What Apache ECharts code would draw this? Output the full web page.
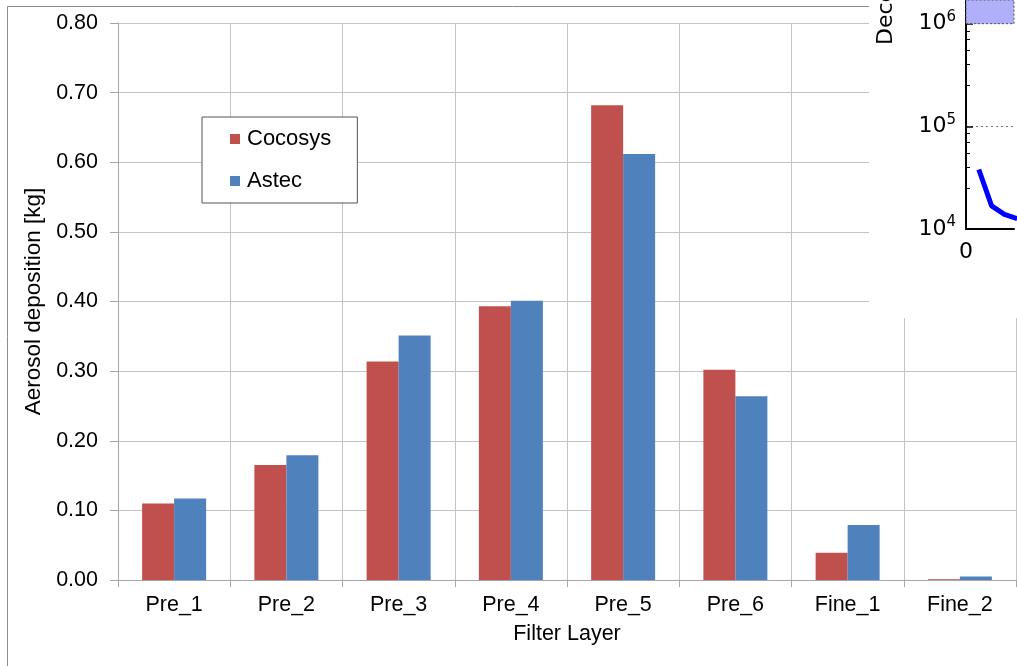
<!DOCTYPE html>
<html>
<head>
<meta charset="utf-8">
<script src="https://cdn.jsdelivr.net/npm/echarts@6/dist/echarts.min.js"></script>
<style>
  html, body { margin: 0; padding: 0; background: #ffffff; }
  #chart { width: 1017px; height: 666px; }
</style>
</head>
<body>
<div id="chart"></div>
<script>
// Aerosol mass deposited on each filter layer, two codes compared
const layers  = ['Pre_1', 'Pre_2', 'Pre_3', 'Pre_4', 'Pre_5', 'Pre_6', 'Fine_1', 'Fine_2'];
const cocosys = [0.110, 0.165, 0.314, 0.393, 0.682, 0.302, 0.039, 0.001];
const astec   = [0.117, 0.179, 0.351, 0.401, 0.612, 0.264, 0.079, 0.005];

// Small decontamination-factor panel in the upper right corner
const dfTime   = [4, 8, 12, 16];
const dfValues = [38000, 16800, 13900, 12600];
const dfLimit  = 1e6;
const dfTop    = 1.7e6;
const dfTimeMax = 15;

const FONT = 'Liberation Sans, Arial, sans-serif';
const PANEL_FONT = 'DejaVu Sans, sans-serif';
const RED = '#c0504d';
const BLUE = '#4f81bd';
const GRID = '#c4c4c4';

const chart = echarts.init(document.getElementById('chart'), null, { renderer: 'canvas' });

const isDecade = v => Math.abs(Math.log10(v) - Math.round(Math.log10(v))) < 1e-6;

chart.setOption({
  animation: false,
  backgroundColor: '#ffffff',
  textStyle: { fontFamily: FONT },
  grid: [
    { left: 118, right: 1, top: 23, bottom: 86 },
    { left: 966, right: 0, top: 0, bottom: 437, z: 60 }
  ],
  legend: {
    data: ['Cocosys', 'Astec'],
    orient: 'vertical',
    left: 202,
    top: 117,
    padding: [11, 26, 11, 28],
    itemGap: 20,
    itemWidth: 10,
    itemHeight: 10,
    icon: 'rect',
    backgroundColor: '#ffffff',
    borderColor: '#555555',
    borderWidth: 1,
    borderRadius: 0,
    textStyle: { fontFamily: FONT, fontSize: 22, color: '#000', lineHeight: 22, padding: [0, 0, 0, 2] },
    z: 20
  },
  xAxis: [
    {
      type: 'category',
      gridIndex: 0,
      data: layers,
      name: 'Filter Layer',
      nameLocation: 'middle',
      nameGap: 43,
      nameTextStyle: { fontFamily: FONT, fontSize: 21.5, color: '#000' },
      axisLine: { lineStyle: { color: '#a6a6a6', width: 1 } },
      axisTick: { show: true, length: 7, lineStyle: { color: '#a6a6a6' } },
      axisLabel: { fontFamily: FONT, fontSize: 21.5, color: '#000', margin: 14, interval: 0 },
      splitLine: { show: true, interval: 0, lineStyle: { color: GRID, width: 1 } }
    },
    {
      type: 'value',
      gridIndex: 1,
      min: 0,
      max: dfTimeMax,
      z: 60,
      axisLine: { onZero: false, lineStyle: { color: '#000', width: 2 } },
      axisTick: { show: false },
      splitLine: { show: false },
      axisLabel: {
        fontFamily: PANEL_FONT, fontSize: 22, color: '#000', margin: 12,
        formatter: v => (v === 0 ? '0' : '')
      }
    }
  ],
  yAxis: [
    {
      type: 'value',
      gridIndex: 0,
      min: 0,
      max: 0.8,
      interval: 0.1,
      name: 'Aerosol deposition [kg]',
      nameLocation: 'middle',
      nameGap: 71,
      nameTextStyle: { fontFamily: FONT, fontSize: 22.5, color: '#000' },
      axisLine: { show: true, lineStyle: { color: '#a6a6a6', width: 1 } },
      axisTick: { show: true, length: 8, lineStyle: { color: '#a6a6a6' } },
      axisLabel: { fontFamily: FONT, fontSize: 21.5, color: '#000', margin: 20, formatter: v => v.toFixed(2) },
      splitLine: { show: true, lineStyle: { color: GRID, width: 1 } }
    },
    {
      type: 'log',
      gridIndex: 1,
      logBase: 10,
      min: 1e4,
      max: dfTop,
      z: 60,
      axisLine: { show: true, lineStyle: { color: '#000', width: 2 } },
      axisTick: { show: true, inside: true, length: 7, lineStyle: { color: '#000', width: 1.5 } },
      minorTick: { show: true, splitNumber: 6, length: 4, lineStyle: { color: '#000', width: 1 } },
      splitLine: { show: true, lineStyle: { color: '#777', type: [2, 3], width: 1 } },
      axisLabel: {
        margin: 10,
        color: '#000',
        formatter: v => (isDecade(v) ? '{b|10}{s|' + Math.round(Math.log10(v)) + '}' : ''),
        rich: {
          b: { fontFamily: PANEL_FONT, fontSize: 22, color: '#000', lineHeight: 28 },
          s: { fontFamily: PANEL_FONT, fontSize: 15, color: '#000', verticalAlign: 'top', lineHeight: 15 }
        }
      }
    }
  ],
  series: [
    {
      name: 'Cocosys',
      type: 'bar',
      xAxisIndex: 0,
      yAxisIndex: 0,
      data: cocosys,
      barWidth: 32,
      barGap: '0%',
      itemStyle: { color: RED }
    },
    {
      name: 'Astec',
      type: 'bar',
      xAxisIndex: 0,
      yAxisIndex: 0,
      data: astec,
      barWidth: 32,
      barGap: '0%',
      itemStyle: { color: BLUE }
    },
    {
      name: 'DF',
      type: 'line',
      xAxisIndex: 1,
      yAxisIndex: 1,
      z: 62,
      clip: true,
      data: dfTime.map((t, i) => [t, dfValues[i]]),
      showSymbol: false,
      lineStyle: { color: '#0000ff', width: 5 },
      markArea: {
        silent: true,
        z: 61,
        itemStyle: {
          color: 'rgb(176,176,250)',
          borderColor: '#555',
          borderWidth: 1,
          borderType: [2, 2]
        },
        data: [[{ xAxis: 0, yAxis: dfLimit }, { xAxis: dfTimeMax, yAxis: dfTop }]]
      }
    }
  ],
  graphic: [
    {
      type: 'polyline',
      z: 5,
      silent: true,
      shape: { points: [[7.5, 666], [7.5, 6.5], [1017, 6.5]] },
      style: { stroke: '#8c8c8c', lineWidth: 1, fill: null }
    },
    {
      type: 'rect',
      z: 50,
      silent: true,
      shape: { x: 869, y: 0, width: 148, height: 318 },
      style: { fill: '#ffffff' }
    },
    {
      type: 'text',
      z: 61,
      silent: true,
      x: 886,
      y: 45,
      rotation: Math.PI / 2,
      style: {
        text: 'Decontamination factor',
        font: '22px ' + PANEL_FONT,
        fill: '#000',
        textAlign: 'left',
        textVerticalAlign: 'middle'
      }
    }
  ]
});
</script>
</body>
</html>
